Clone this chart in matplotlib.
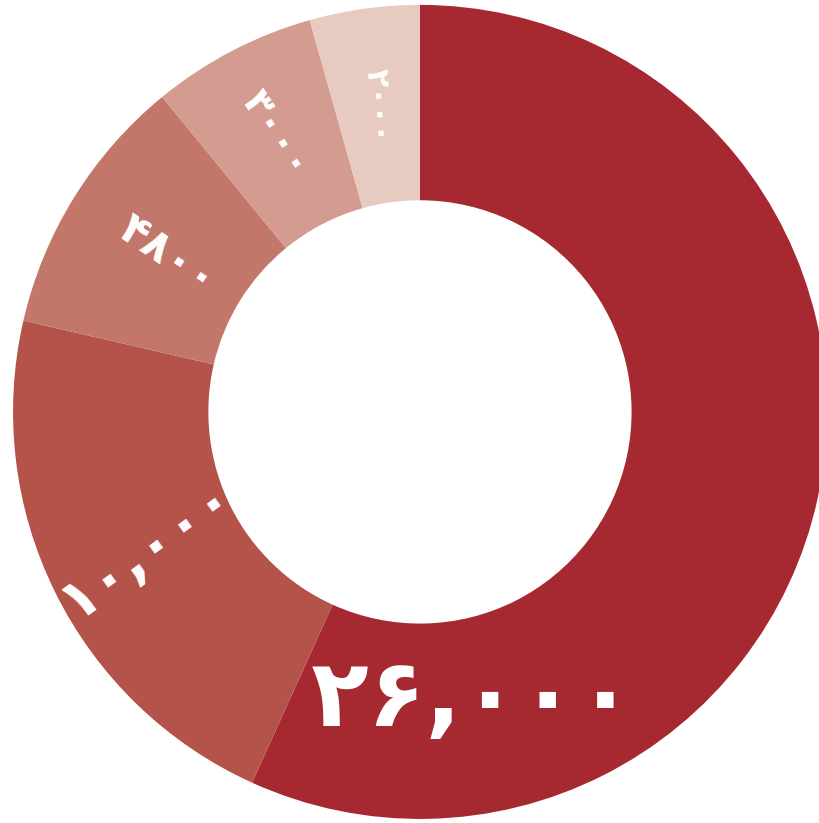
import matplotlib
matplotlib.use("Agg")
import matplotlib.pyplot as plt
import numpy as np

values = [26000, 10000, 4800, 3000, 2000]
labels = ["۲۶,۰۰۰", "۱۰,۰۰۰", "۴۸۰۰", "۳۰۰۰", "۲۰۰۰"]
colors = ["#A62831", "#B4534A", "#C3776B", "#D49C90", "#E7CBC1"]

# label styling
label_sizes = [68, 42, 32, 28, 22]
label_rot = [0, 36, -34, -57, -86]
label_r = [None, 0.75, 0.73, 0.77, 0.76]

fig = plt.figure(figsize=(8.2, 8.23), dpi=100)
ax = fig.add_axes([0, 0, 1, 1])
wedges, _ = ax.pie(values, colors=colors, startangle=90, counterclock=False,
                   radius=1.0, wedgeprops=dict(width=0.48, edgecolor="none"))
ax.set_xlim(-1.032, 0.983)
ax.set_ylim(-1.010, 1.012)
ax.set_aspect("auto")
ax.axis("off")

for i, (w, lab) in enumerate(zip(wedges, labels)):
    if i == 0:
        x, y = 0.13, -0.708
    else:
        th = np.deg2rad((w.theta1 + w.theta2) / 2)
        x, y = label_r[i] * np.cos(th), label_r[i] * np.sin(th)
    ax.text(x, y, lab, ha="center", va="center", rotation=label_rot[i],
            rotation_mode="anchor", color="white", fontsize=label_sizes[i],
            fontweight="bold", family=["DejaVu Sans"])

fig.savefig("out.png", dpi=100)
